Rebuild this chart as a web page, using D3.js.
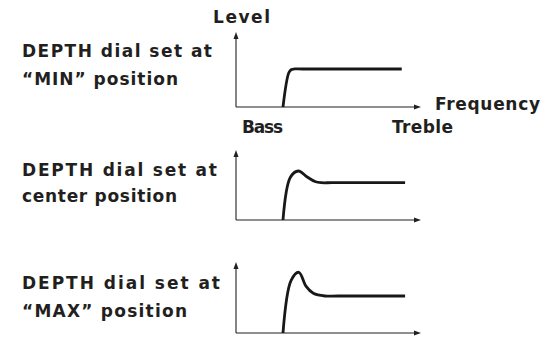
<!DOCTYPE html>
<html>
<head>
<meta charset="utf-8">
<script src="https://cdn.jsdelivr.net/npm/d3@7"></script>
<style>
  body { margin: 0; background: #fff; }
  text { font-family: "DejaVu Sans", sans-serif; font-weight: 700; font-size: 17px; fill: #231f20; }
</style>
</head>
<body>
<svg width="549" height="338"></svg>
<script>
// depth settings, one panel each
var settings = ["MIN", "center", "MAX"];
var captions = [
  ["DEPTH dial set at", "\u201cMIN\u201d position"],
  ["DEPTH dial set at", "center position"],
  ["DEPTH dial set at", "\u201cMAX\u201d position"]
];

// response curves: frequency (0 = bass, 100 = treble) vs level (0-100)
var minFreq    = [25.4, 28.6, 30, 31.6, 36, 89.6];
var minLevel   = [0, 46, 50, 50.7, 50.7, 50.7];
var centerFreq  = [25.4, 29.4, 33.7, 38.5, 42.7, 46, 52, 91.4];
var centerLevel = [0, 61, 70, 61.5, 55, 53.3, 53.3, 53.3];
var maxFreq    = [25.4, 29.8, 34, 37.8, 41.8, 48.1, 55, 91.4];
var maxLevel   = [0, 74, 85.5, 66, 56, 52.1, 52.1, 52.1];

var freqs = [minFreq, centerFreq, maxFreq];
var levels = [minLevel, centerLevel, maxLevel];

var svg = d3.select("svg");

var x = d3.scaleLinear().domain([0, 100]).range([236, 421]);
var tops = [32, 150, 262],
    bottoms = [107, 220, 333];

var capY = [[57, 85], [176, 202], [289, 317]];
var capW = [[190, 156], [195, 155], [198, 165]];

function arrowHead(px, py, dir) {
  // small filled triangle pointing up or right
  var p = dir == "up"
    ? [[px, py], [px - 2.5, py + 7], [px + 2.5, py + 7]]
    : [[px, py], [px - 7, py - 2.5], [px - 7, py + 2.5]];
  svg.append("path").attr("d", "M" + p.join("L") + "Z").attr("fill", "#231f20");
}

settings.forEach(function(s, i) {
  var y = d3.scaleLinear().domain([0, 100]).range([bottoms[i], tops[i]]);

  svg.append("line")
    .attr("x1", x(0)).attr("x2", x(0))
    .attr("y1", y(0)).attr("y2", tops[i] + 5)
    .attr("stroke", "#231f20").attr("stroke-width", 1.1);
  svg.append("line")
    .attr("x1", x(0)).attr("x2", 416)
    .attr("y1", y(0)).attr("y2", y(0))
    .attr("stroke", "#231f20").attr("stroke-width", 1.1);
  arrowHead(x(0), tops[i], "up");
  arrowHead(x(100), y(0), "right");

  var pts = freqs[i].map(function(f, j) { return [f, levels[i][j]]; });
  var line = d3.line()
    .x(function(d) { return x(d[0]); })
    .y(function(d) { return y(d[1]); })
    .curve(d3.curveCatmullRom.alpha(0.5));
  svg.append("path")
    .attr("d", line(pts))
    .attr("fill", "none")
    .attr("stroke", "#1a1718")
    .attr("stroke-width", 2.8)
    .attr("stroke-linejoin", "round");

  captions[i].forEach(function(t, k) {
    svg.append("text")
      .attr("x", 22).attr("y", capY[i][k])
      .attr("textLength", capW[i][k])
      .attr("lengthAdjust", "spacing")
      .text(t);
  });
});

svg.append("text").attr("x", 213).attr("y", 23)
  .attr("textLength", 57).attr("lengthAdjust", "spacing").text("Level");
svg.append("text").attr("x", 435).attr("y", 110)
  .attr("textLength", 105).attr("lengthAdjust", "spacing").text("Frequency");
svg.append("text").attr("x", 242).attr("y", 133)
  .attr("textLength", 41).attr("lengthAdjust", "spacing").text("Bass");
svg.append("text").attr("x", 392).attr("y", 133)
  .attr("textLength", 61).attr("lengthAdjust", "spacing").text("Treble");
</script>
</body>
</html>
